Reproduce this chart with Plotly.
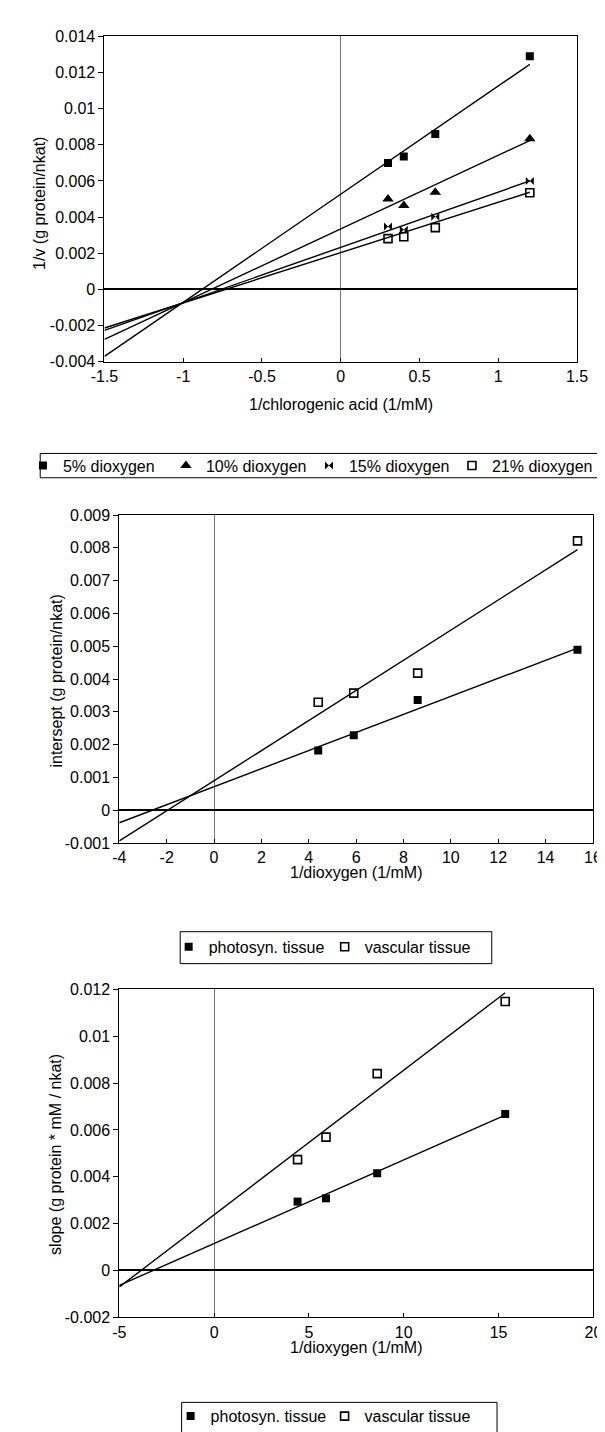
import plotly.graph_objects as go

W, H = 605, 1432
FONT = "Liberation Sans, Arial, Helvetica, sans-serif"

# ---------------- data: panel 1 (Lineweaver-Burk) ----------------
chl_inv = [0.3, 0.4, 0.6, 1.2]
names1 = ["5% dioxygen", "10% dioxygen", "15% dioxygen", "21% dioxygen"]
v_inv_5 = [0.0070, 0.00735, 0.0086, 0.0129]
v_inv_10 = [0.0050, 0.00465, 0.00537, 0.00834]
v_inv_15 = [0.00348, 0.0033, 0.00402, 0.0060]
v_inv_21 = [0.00281, 0.00292, 0.00342, 0.00535]
fit1_intercept = [0.00527, 0.00335, 0.00233, 0.00204]
fit1_slope = [0.00598, 0.00407, 0.00306, 0.00278]
x1_ticks = [-1.5, -1, -0.5, 0, 0.5, 1, 1.5]
x1_labels = ["-1.5", "-1", "-0.5", "0", "0.5", "1", "1.5"]
y1_ticks = [-0.004, -0.002, 0, 0.002, 0.004, 0.006, 0.008, 0.01, 0.012, 0.014]
y1_labels = ["-0.004", "-0.002", "0", "0.002", "0.004", "0.006", "0.008", "0.01", "0.012", "0.014"]

# ---------------- data: panels 2 and 3 ----------------
o2_inv = [4.4, 5.9, 8.6, 15.35]
names23 = ["photosyn. tissue", "vascular tissue"]
icpt_photo = [0.00182, 0.00229, 0.00336, 0.00489]
icpt_vasc = [0.00329, 0.00357, 0.00418, 0.00821]
fit2_intercept = [0.00072, 0.00090]
fit2_slope = [0.000275, 0.000459]
x2_ticks = [-4, -2, 0, 2, 4, 6, 8, 10, 12, 14, 16]
x2_labels = ["-4", "-2", "0", "2", "4", "6", "8", "10", "12", "14", "16"]
y2_ticks = [-0.001, 0, 0.001, 0.002, 0.003, 0.004, 0.005, 0.006, 0.007, 0.008, 0.009]
y2_labels = ["-0.001", "0", "0.001", "0.002", "0.003", "0.004", "0.005", "0.006", "0.007", "0.008", "0.009"]

slope_photo = [0.00294, 0.00308, 0.00415, 0.00668]
slope_vasc = [0.00473, 0.00569, 0.0084, 0.01148]
fit3_intercept = [0.00115, 0.00238]
fit3_slope = [0.000357, 0.000617]
x3_ticks = [-5, 0, 5, 10, 15, 20]
x3_labels = ["-5", "0", "5", "10", "15", "20"]
y3_ticks = [-0.002, 0, 0.002, 0.004, 0.006, 0.008, 0.01, 0.012]
y3_labels = ["-0.002", "0", "0.002", "0.004", "0.006", "0.008", "0.01", "0.012"]


def dx(a, b):
    return [a / W, b / W]


def dy(top, bottom):
    return [1 - bottom / H, 1 - top / H]


def py(p):
    return 1 - p / H


fig = go.Figure()

sq = dict(symbol="square", size=8, color="black")
osq = dict(symbol="square-open", size=8, color="black", line=dict(width=1.6, color="black"))
tri = dict(symbol="triangle-up", size=10, color="black")
bow = dict(symbol="bowtie", size=8, color="black")

# panel 1
x_lo1 = x1_ticks[0]
x_hi1 = max(chl_inv)
for b, m in zip(fit1_intercept, fit1_slope):
    fig.add_trace(go.Scatter(x=[x_lo1, x_hi1], y=[b + m * x_lo1, b + m * x_hi1], mode="lines",
                             line=dict(color="black", width=1.4), showlegend=False,
                             xaxis="x", yaxis="y", hoverinfo="skip"))
for name, ys, mk in zip(names1, [v_inv_5, v_inv_10, v_inv_15, v_inv_21], [sq, tri, bow, osq]):
    fig.add_trace(go.Scatter(x=chl_inv, y=ys, mode="markers", marker=mk, name=name,
                             xaxis="x", yaxis="y", legend="legend"))

# panel 2
x_lo2 = x2_ticks[0]
x_hi2 = max(o2_inv)
for b, m in zip(fit2_intercept, fit2_slope):
    fig.add_trace(go.Scatter(x=[x_lo2, x_hi2], y=[b + m * x_lo2, b + m * x_hi2], mode="lines",
                             line=dict(color="black", width=1.4), showlegend=False,
                             xaxis="x2", yaxis="y2", hoverinfo="skip"))
for name, ys, mk in zip(names23, [icpt_photo, icpt_vasc], [sq, osq]):
    fig.add_trace(go.Scatter(x=o2_inv, y=ys, mode="markers", marker=mk, name=name,
                             xaxis="x2", yaxis="y2", legend="legend2"))

# panel 3
x_lo3 = x3_ticks[0]
x_hi3 = max(o2_inv)
for b, m in zip(fit3_intercept, fit3_slope):
    fig.add_trace(go.Scatter(x=[x_lo3, x_hi3], y=[b + m * x_lo3, b + m * x_hi3], mode="lines",
                             line=dict(color="black", width=1.4), showlegend=False,
                             xaxis="x3", yaxis="y3", hoverinfo="skip"))
for name, ys, mk in zip(names23, [slope_photo, slope_vasc], [sq, osq]):
    fig.add_trace(go.Scatter(x=o2_inv, y=ys, mode="markers", marker=mk, name=name,
                             xaxis="x3", yaxis="y3", legend="legend3"))

FS = 16
tickfont = dict(family=FONT, size=FS, color="black")


def xax(dom, ticks, labels, anchor):
    return dict(domain=dom, range=[ticks[0], ticks[-1]], tickmode="array", tickvals=ticks,
                ticktext=labels, showgrid=False, showline=True, linecolor="black", linewidth=1,
                mirror=True, ticks="inside", ticklen=4, tickcolor="black", tickfont=tickfont,
                zeroline=True, zerolinecolor="#777", zerolinewidth=1, anchor=anchor)


def yax(dom, ticks, labels, anchor):
    return dict(domain=dom, range=[ticks[0], ticks[-1]], tickmode="array", tickvals=ticks,
                ticktext=labels, showgrid=False, showline=True, linecolor="black", linewidth=1,
                mirror=True, ticks="outside", ticklen=5, tickcolor="black", tickfont=tickfont,
                zeroline=True, zerolinecolor="black", zerolinewidth=1.6, anchor=anchor)


P1 = dict(l=86, r=579, t=20.5, b=350)
P2 = dict(l=101.5, r=595.5, t=505, b=837)
P3 = dict(l=101.5, r=596, t=985, b=1317)

lg_font = dict(family=FONT, size=FS, color="black")

fig.update_layout(
    width=W, height=H, autosize=False,
    margin=dict(l=0, r=0, t=0, b=0),
    paper_bgcolor="white", plot_bgcolor="white",
    showlegend=True,
    xaxis=xax(dx(P1["l"], P1["r"]), x1_ticks, x1_labels, "y"),
    yaxis=yax(dy(P1["t"], P1["b"]), y1_ticks, y1_labels, "x"),
    xaxis2=xax(dx(P2["l"], P2["r"]), x2_ticks, x2_labels, "y2"),
    yaxis2=yax(dy(P2["t"], P2["b"]), y2_ticks, y2_labels, "x2"),
    xaxis3=xax(dx(P3["l"], P3["r"]), x3_ticks, x3_labels, "y3"),
    yaxis3=yax(dy(P3["t"], P3["b"]), y3_ticks, y3_labels, "x3"),
    legend=dict(orientation="h", x=1 / W, xanchor="left", y=py(455), yanchor="middle",
                entrywidth=98, font=lg_font, bgcolor="rgba(0,0,0,0)", borderwidth=0),
    legend2=dict(orientation="h", x=153 / W, xanchor="left", y=py(942), yanchor="middle",
                 entrywidth=111, font=lg_font, bgcolor="rgba(0,0,0,0)", borderwidth=0),
    legend3=dict(orientation="h", x=155 / W, xanchor="left", y=py(1417), yanchor="middle",
                 entrywidth=109, font=lg_font, bgcolor="rgba(0,0,0,0)", borderwidth=0),
)

# legend boxes
for x0, x1, y0, y1 in [(19, 603, 442.7, 467.3), (165, 490, 926.7, 959), (166.5, 495.5, 1403, 1445)]:
    fig.add_shape(type="rect", xref="paper", yref="paper", x0=x0 / W, x1=x1 / W, y0=py(y1), y1=py(y0),
                  line=dict(color="black", width=1), fillcolor="rgba(0,0,0,0)")

# axis titles
tfont = dict(family=FONT, size=FS, color="black")
for txt, xc, yc in [("1/chlorogenic acid (1/mM)", (P1["l"] + P1["r"]) / 2, 393),
                    ("1/dioxygen (1/mM)", (P2["l"] + P2["r"]) / 2, 867),
                    ("1/dioxygen (1/mM)", (P3["l"] + P3["r"]) / 2, 1347)]:
    fig.add_annotation(text=txt, x=xc / W, y=py(yc), xref="paper", yref="paper", showarrow=False,
                       xanchor="center", yanchor="middle", font=tfont)
for txt, xc, yc in [("1/v (g protein/nkat)", 19, 190),
                    ("intersept (g protein/nkat)", 35, 673),
                    ("slope (g protein * mM / nkat)", 35, 1152)]:
    fig.add_annotation(text=txt, x=xc / W, y=py(yc), xref="paper", yref="paper", showarrow=False,
                       xanchor="center", yanchor="middle", textangle=-90, font=tfont)

fig.write_html("out.html")
